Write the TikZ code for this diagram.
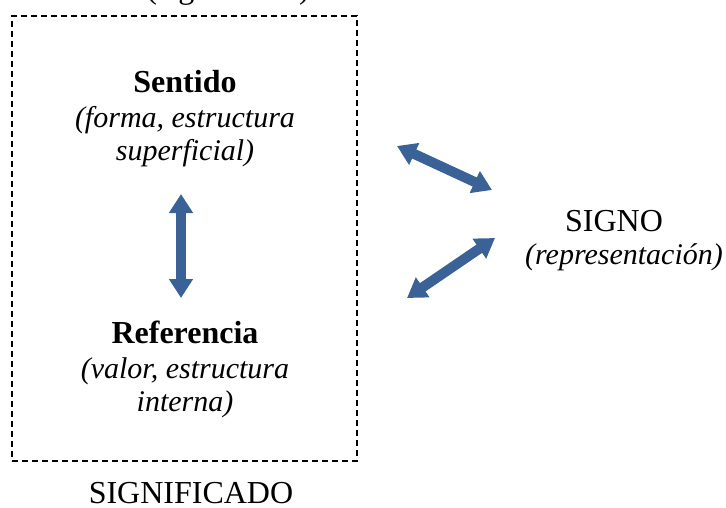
\documentclass[tikz,border=0pt]{standalone}
\usepackage{fontspec}
\setmainfont{Liberation Serif}
\usetikzlibrary{arrows.meta}
\definecolor{arrowblue}{RGB}{58,98,150}
\tikzset{
  txt/.style={font=\fontsize{32}{34}\selectfont, inner sep=0pt, anchor=base},
  itxt/.style={font=\fontsize{30}{34}\selectfont\itshape, inner sep=0pt, anchor=base},
  bluearrow/.style={draw=arrowblue, line width=10pt,
    {Triangle[width=23pt,length=19pt]}-{Triangle[width=23pt,length=19pt]}},
  frame/.style={draw, line width=1.5pt, dash pattern=on 6pt off 4pt,
    minimum width=345pt, minimum height=445pt, inner sep=0pt}
}
\begin{document}
\begin{tikzpicture}[x=1pt,y=-1pt]
\useasboundingbox (0,0) rectangle (726,507);
\clip (0,0) rectangle (726,507);
\node[frame] (box) at (184.5,238.5) {};
\node[txt] (top) at (228,-2) {(significado)};
\node[txt] (s1) at (185,92) {\textbf{Sentido}};
\node[itxt] (s2) at (185,127) {(forma, estructura};
\node[itxt] (s3) at (185,160) {superficial)};
\node[txt] (r1) at (185,343) {\textbf{Referencia}};
\node[itxt] (r2) at (185,378) {(valor, estructura};
\node[itxt] (r3) at (185,411) {interna)};
\node[txt] (sig) at (191,503) {SIGNIFICADO};
\node[txt] (g1) at (614,231) {SIGNO};
\node[itxt] (g2) at (624,264) {(representación)};
\coordinate (va) at (181,194);
\coordinate (vb) at (181,298);
\coordinate (ua) at (397,146);
\coordinate (ub) at (492,190);
\coordinate (la) at (407,298);
\coordinate (lb) at (495,238);
\draw[bluearrow] (va) -- (vb);
\draw[bluearrow] (ua) -- (ub);
\draw[bluearrow] (la) -- (lb);
\end{tikzpicture}
\end{document}
